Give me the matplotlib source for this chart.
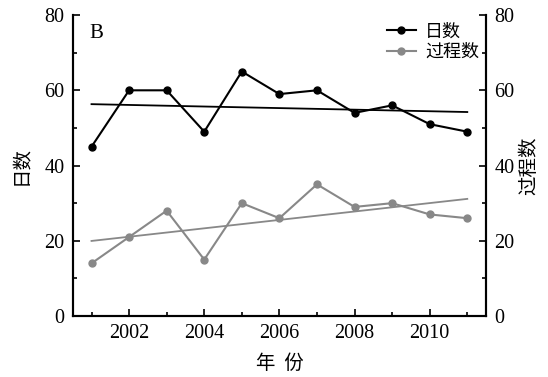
import numpy as np
from matplotlib import pyplot as plt
from matplotlib.ticker import MultipleLocator

# 年份与两组数据
years = [2001, 2002, 2003, 2004, 2005, 2006, 2007, 2008, 2009, 2010, 2011]
days = [45, 60, 60, 49, 65, 59, 60, 54, 56, 51, 49]
events = [14, 21, 28, 15, 30, 26, 35, 29, 30, 27, 26]

plt.rcParams['font.family'] = ['Liberation Serif', 'Noto Sans CJK SC']
cjk = ['Noto Sans CJK SC', 'DejaVu Sans']
grey = '#888888'

fig = plt.figure(figsize=(5.48, 3.77), dpi=100)
ax = fig.add_axes([0.1327, 0.1618, 0.7543, 0.7982])
ax2 = ax.twinx()

x = np.array(years)
ax.plot(x, days, color='black', lw=1.5, marker='o', ms=5, label='日数')
ax.plot(x, events, color=grey, lw=1.5, marker='o', ms=5, label='过程数')

# 线性趋势
k1, b1 = np.polyfit(x, days, 1)
k2, b2 = np.polyfit(x, events, 1)
ax.plot(x[[0, -1]], k1 * x[[0, -1]] + b1, color='black', lw=1.3)
ax.plot(x[[0, -1]], k2 * x[[0, -1]] + b2, color=grey, lw=1.3)

ax.set_xlim(2000.5, 2011.5)
ax.set_ylim(0, 80)
ax2.set_ylim(0, 80)
ax.set_xticks([2002, 2004, 2006, 2008, 2010])
ax.xaxis.set_minor_locator(MultipleLocator(1))
for a in (ax, ax2):
    a.yaxis.set_major_locator(MultipleLocator(20))
    a.yaxis.set_minor_locator(MultipleLocator(10))
    a.spines['top'].set_visible(False)
    for s in a.spines.values():
        s.set_linewidth(1.5)
    a.tick_params(which='both', direction='in', labelsize=14.5, width=1.2)
    a.tick_params(which='major', length=5, pad=6)
    a.tick_params(which='minor', length=3)

ax.set_xlabel('年  份', family=cjk, fontsize=14, labelpad=7)
ax.set_ylabel('日数', family=cjk, fontsize=14, labelpad=9)
ax2.set_ylabel('过程数', family=cjk, fontsize=14, labelpad=3)
ax.text(0.04, 0.97, 'B', transform=ax.transAxes, fontsize=15, va='top')

ax.legend(loc='upper right', frameon=False, prop={'family': cjk, 'size': 13},
          handlelength=1.6, borderaxespad=0.0, labelspacing=0.15,
          handletextpad=0.5)

plt.savefig('out.png', dpi=100)
